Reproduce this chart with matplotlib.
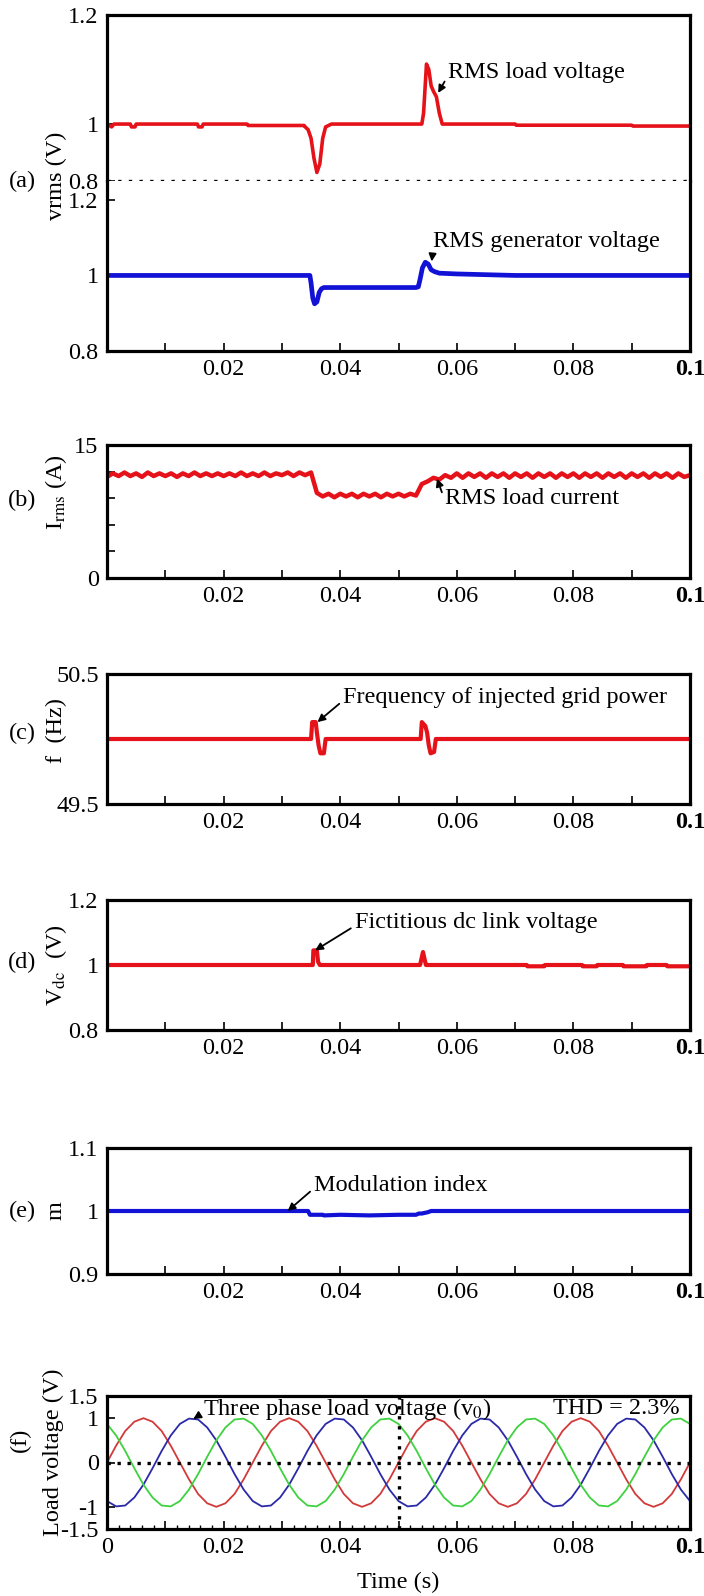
import numpy as np
import matplotlib
matplotlib.use('Agg')
import matplotlib.pyplot as plt
from matplotlib import rcParams

rcParams['font.family'] = 'Liberation Serif'
rcParams['mathtext.fontset'] = 'stix'
rcParams['font.size'] = 17.5

# ---- data ----
# (a) RMS load voltage (red) and RMS generator voltage (blue)
t_load = [0, 0.0008, 0.0012, 0.004, 0.0042, 0.0048, 0.005, 0.0155, 0.0157, 0.0163,
          0.0165, 0.024, 0.0242, 0.0338, 0.034, 0.0345, 0.035, 0.0355, 0.036, 0.0365,
          0.037, 0.0375, 0.038, 0.0385, 0.054, 0.0543, 0.0548, 0.0552, 0.0556, 0.056,
          0.0565, 0.057, 0.0575, 0.058, 0.07, 0.0702, 0.09, 0.0902, 0.1]
v_load = [1.0, 0.99, 1.0, 1.0, 0.99, 0.99, 1.0, 1.0, 0.99, 0.99,
          1.0, 1.0, 0.995, 0.995, 0.99, 0.98, 0.95, 0.88, 0.83, 0.86,
          0.95, 0.99, 0.995, 1.0, 1.0, 1.02, 1.11, 1.10, 1.07, 1.06,
          1.05, 1.02, 1.0, 1.0, 1.0, 0.996, 0.996, 0.993, 0.993]
t_gen = [0, 0.0348, 0.035, 0.0353, 0.0356, 0.036, 0.0364, 0.0368, 0.0372, 0.053,
         0.0534, 0.0537, 0.0541, 0.0546, 0.0551, 0.0556, 0.0562, 0.057, 0.06, 0.07, 0.1]
v_gen = [1.0, 1.0, 0.98, 0.94, 0.925, 0.93, 0.955, 0.965, 0.968, 0.968,
         0.97, 0.99, 1.02, 1.035, 1.03, 1.015, 1.01, 1.006, 1.004, 1.0, 1.0]

# (b) RMS load current, sampled every 1 ms
t_cur = np.arange(101) * 0.001
i_cur = [11.4, 11.8, 11.5, 11.9, 11.5, 11.8, 11.4, 11.9, 11.5, 11.8,
         11.5, 11.8, 11.4, 11.8, 11.5, 11.9, 11.5, 11.8, 11.5, 11.8,
         11.5, 11.8, 11.5, 11.9, 11.5, 11.8, 11.5, 11.9, 11.5, 11.8,
         11.6, 11.9, 11.5, 11.9, 11.6, 11.9, 9.6, 9.2, 9.5, 9.1,
         9.5, 9.2, 9.5, 9.1, 9.5, 9.2, 9.5, 9.1, 9.5, 9.2,
         9.5, 9.2, 9.5, 9.3, 10.6, 10.9, 11.3, 11.1, 11.6, 11.3,
         11.8, 11.3, 11.8, 11.4, 11.8, 11.3, 11.8, 11.4, 11.8, 11.3,
         11.8, 11.4, 11.8, 11.3, 11.8, 11.4, 11.8, 11.3, 11.8, 11.4,
         11.8, 11.3, 11.8, 11.4, 11.8, 11.3, 11.8, 11.4, 11.8, 11.3,
         11.8, 11.4, 11.8, 11.3, 11.8, 11.4, 11.8, 11.3, 11.8, 11.4, 11.6]

# (c) frequency of injected grid power
t_freq = [0, 0.035, 0.0352, 0.0358, 0.036, 0.0363, 0.0366, 0.0372, 0.0375,
          0.0538, 0.054, 0.0546, 0.0549, 0.0552, 0.0555, 0.0561, 0.0564, 0.1]
f_freq = [50, 50, 50.13, 50.13, 50.05, 49.95, 49.89, 49.89, 50,
          50, 50.13, 50.1, 50.05, 49.95, 49.89, 49.9, 50, 50]

# (d) fictitious dc link voltage
t_vdc = [0, 0.0353, 0.0354, 0.036, 0.0362, 0.0365, 0.0537, 0.0542, 0.0547, 0.0551,
         0.072, 0.0721, 0.075, 0.0751, 0.0815, 0.0816, 0.084, 0.0841, 0.0885, 0.0886,
         0.0925, 0.0926, 0.096, 0.0961, 0.1]
v_vdc = [1, 1, 1.045, 1.045, 1.01, 1, 1, 1.04, 1.0, 1,
         1, 0.996, 0.996, 1, 1, 0.996, 0.996, 1, 1, 0.996,
         0.996, 1, 1, 0.996, 0.996]

# (e) modulation index
t_mod = [0, 0.0345, 0.0348, 0.037, 0.0372, 0.04, 0.045, 0.05, 0.053, 0.0535,
         0.054, 0.055, 0.0556, 0.1]
m_mod = [1.0, 1.0, 0.994, 0.994, 0.993, 0.994, 0.993, 0.994, 0.994, 0.996,
         0.996, 0.998, 1.0, 1.0]

# (f) three phase load voltage
t_ph = np.linspace(0, 0.1, 65)
va = [0, .38, .71, .92, 1, .92, .71, .38, 0, -.38, -.71, -.92, -1, -.92, -.71, -.38,
      0, .38, .71, .92, 1, .92, .71, .38, 0, -.38, -.71, -.92, -1, -.92, -.71, -.38,
      0, .38, .71, .92, 1, .92, .71, .38, 0, -.38, -.71, -.92, -1, -.92, -.71, -.38,
      0, .38, .71, .92, 1, .92, .71, .38, 0, -.38, -.71, -.92, -1, -.92, -.71, -.38, 0]
vb = [-.87, -.99, -.97, -.79, -.5, -.13, .26, .61, .87, .99, .97, .79, .5, .13, -.26, -.61,
      -.87, -.99, -.97, -.79, -.5, -.13, .26, .61, .87, .99, .97, .79, .5, .13, -.26, -.61,
      -.87, -.99, -.97, -.79, -.5, -.13, .26, .61, .87, .99, .97, .79, .5, .13, -.26, -.61,
      -.87, -.99, -.97, -.79, -.5, -.13, .26, .61, .87, .99, .97, .79, .5, .13, -.26, -.61, -.87]
vc = [.87, .61, .26, -.13, -.5, -.79, -.97, -.99, -.87, -.61, -.26, .13, .5, .79, .97, .99,
      .87, .61, .26, -.13, -.5, -.79, -.97, -.99, -.87, -.61, -.26, .13, .5, .79, .97, .99,
      .87, .61, .26, -.13, -.5, -.79, -.97, -.99, -.87, -.61, -.26, .13, .5, .79, .97, .99,
      .87, .61, .26, -.13, -.5, -.79, -.97, -.99, -.87, -.61, -.26, .13, .5, .79, .97, .99, .87]

x_ticks = [0.01, 0.02, 0.03, 0.04, 0.05, 0.06, 0.07, 0.08, 0.09, 0.1]
x_labels = ['', '0.02', '', '0.04', '', '0.06', '', '0.08', '', '0.1']

RED = '#e5121a'
BLUE = '#1212d6'
FS = 17.5

fig = plt.figure(figsize=(7.04, 15.96), dpi=100)
W, H = 704.0, 1596.0
L, R = 107, 690


def make_ax(top, bottom):
    return fig.add_axes([L / W, 1 - bottom / H, (R - L) / W, (bottom - top) / H])


def style(ax, lw=2.3):
    for s in ax.spines.values():
        s.set_linewidth(lw)
    ax.set_xlim(0, 0.1)
    ax.tick_params(direction='in', length=6, width=1.2, pad=6, labelsize=FS)


def xaxis(ax, labels=x_labels, ticks=x_ticks):
    ax.set_xticks(ticks)
    ax.set_xticklabels(labels)
    for lab in ax.get_xticklabels():
        if lab.get_text() == '0.1':
            lab.set_fontweight('bold')


def note(ax, text, xy, xytext):
    ax.annotate(text, xy=xy, xytext=xytext, ha='left', va='center', fontsize=FS,
                arrowprops=dict(arrowstyle='-|>', color='k', lw=1.3, mutation_scale=11,
                                shrinkA=1, shrinkB=0, relpos=(0, 0.35)))


def txt(x, y, s, rot=0):
    fig.text(x / W, 1 - y / H, s, ha='center', va='center', rotation=rot, fontsize=FS)


# (a) upper half: piecewise scale so that 1 sits low in the panel
up_pts = [0.8, 1.0, 1.2]
up_pos = [0.0, 0.343, 1.0]
ax1 = make_ax(15, 181)
style(ax1)
ax1.set_yscale('function', functions=(lambda v: np.interp(v, up_pts, up_pos),
                                      lambda u: np.interp(u, up_pos, up_pts)))
ax1.set_ylim(0.8, 1.2)
ax1.plot(t_load, v_load, color=RED, lw=2.6)
ax1.spines['bottom'].set_visible(False)
ax1.axhline(0.8, color='k', ls=(0, (1.0, 2.2)), lw=2.4, clip_on=False)
ax1.set_yticks([0.8, 1.0, 1.2])
ax1.set_yticklabels(['0.8', '1', '1.2'])
ax1.set_xticks([])
note(ax1, 'RMS load voltage', (0.0568, 1.057), (0.0585, 1.095))

ax2 = make_ax(181, 351)
style(ax2)
ax2.set_ylim(0.8, 1.25)
ax2.plot(t_gen, v_gen, color=BLUE, lw=3.4)
ax2.spines['top'].set_visible(False)
ax2.set_yticks([0.8, 1.0, 1.2])
ax2.set_yticklabels(['0.8', '1', '1.2'])
xaxis(ax2)
note(ax2, 'RMS generator voltage', (0.0557, 1.037), (0.056, 1.09))
txt(22, 181, '(a)')
txt(56, 176, 'vrms (V)', rot=90)

# (b)
ax = make_ax(445, 578)
style(ax)
ax.plot(t_cur, i_cur, color=RED, lw=3.2)
ax.set_ylim(0, 15)
ax.set_yticks([0, 3, 6, 9, 12, 15])
ax.set_yticklabels(['0', '', '', '', '', '15'])
xaxis(ax)
note(ax, 'RMS load current', (0.0566, 11.2), (0.058, 9.0))
txt(22, 500, '(b)')
txt(56, 492, r'I$_{\rm rms}$ (A)', rot=90)

# (c)
ax = make_ax(674, 804)
style(ax)
ax.plot(t_freq, f_freq, color=RED, lw=3.0)
ax.set_ylim(49.5, 50.5)
ax.set_yticks([49.5, 50.5])
ax.set_yticklabels(['49.5', '50.5'])
xaxis(ax)
note(ax, 'Frequency of injected grid power', (0.0361, 50.13), (0.0405, 50.32))
txt(22, 733, '(c)')
txt(56, 730, 'f  (Hz)', rot=90)

# (d)
ax = make_ax(900, 1030)
style(ax)
ax.plot(t_vdc, v_vdc, color=RED, lw=3.0)
ax.set_ylim(0.8, 1.2)
ax.set_yticks([0.8, 1.0, 1.2])
ax.set_yticklabels(['0.8', '1', '1.2'])
xaxis(ax)
note(ax, 'Fictitious dc link voltage', (0.0357, 1.045), (0.0425, 1.13))
txt(22, 962, '(d)')
txt(56, 965, r'V$_{\rm dc}$  (V)', rot=90)

# (e)
ax = make_ax(1148, 1274)
style(ax)
ax.plot(t_mod, m_mod, color=BLUE, lw=3.0)
ax.set_ylim(0.9, 1.1)
ax.set_yticks([0.9, 1.0, 1.1])
ax.set_yticklabels(['0.9', '1', '1.1'])
xaxis(ax)
note(ax, 'Modulation index', (0.031, 1.0), (0.0355, 1.041))
txt(22, 1211, '(e)')
txt(56, 1211, 'm', rot=90)

# (f)
ax = make_ax(1396, 1529)
style(ax)
ax.plot(t_ph, va, color='#d23a3a', lw=1.3)
ax.plot(t_ph, vb, color='#2a2aa8', lw=1.3)
ax.plot(t_ph, vc, color='#3fd13f', lw=1.3)
ax.axhline(0, color='k', ls=(0, (1.0, 2.0)), lw=2.4)
ax.axvline(0.05, color='k', ls=(0, (1.0, 2.0)), lw=2.4)
ax.set_ylim(-1.5, 1.5)
ax.set_yticks([-1.5, -1, 0, 1, 1.5])
ax.set_yticklabels(['-1.5', '-1', '0', '1', '1.5'])
xaxis(ax, ['0'] + x_labels, [0] + x_ticks)
ax.set_xticks(np.arange(0, 0.1001, 0.002), minor=True)
ax.tick_params(which='minor', direction='in', length=3, width=1)
note(ax, r'Three phase load voltage (v$_0$)', (0.0148, 0.98), (0.0165, 1.21))
ax.text(0.0765, 1.21, 'THD = 2.3%', ha='left', va='center', fontsize=FS)
ax.set_xlabel('Time (s)', fontsize=FS, labelpad=10)
txt(20, 1440, '(f)', rot=90)
txt(53, 1452, 'Load voltage (V)', rot=90)

fig.savefig('out.png', dpi=100)
